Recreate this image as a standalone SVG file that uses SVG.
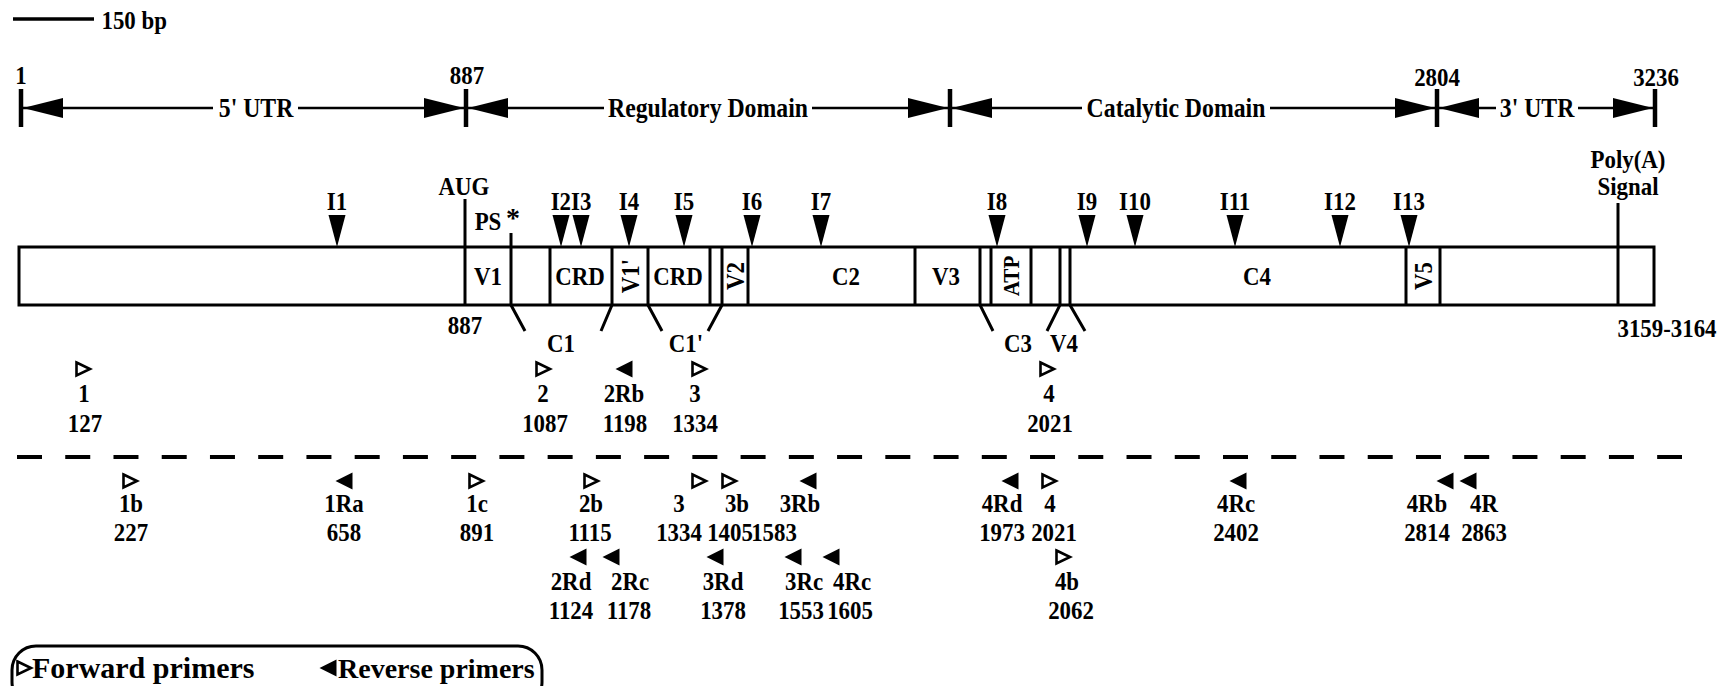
<svg xmlns="http://www.w3.org/2000/svg" width="1732" height="686" viewBox="0 0 1732 686">
<style>
text{font-family:"Liberation Serif","Times New Roman",serif;font-weight:bold;font-size:26px;fill:#000;text-anchor:middle;transform-box:fill-box;transform-origin:center;transform:scaleX(0.88)}
.st{text-anchor:start}
.ns{transform:none}
.ln{stroke:#000;stroke-width:3;fill:none}
.thin{stroke:#000;stroke-width:2.5;fill:none}
.tick{stroke:#000;stroke-width:4.5}
.big{font-size:27px}
.lg{font-size:30px}
</style>
<defs>
<path id="fwd" d="M-6.5,-6.5 L7,0 L-6.5,6.5 Z" fill="#fff" stroke="#000" stroke-width="2.6"/>
<path id="rev" d="M-8.5,0 L8.5,-8.5 L8.5,8.5 Z" fill="#000"/>
<path id="dn" d="M-8.5,0 L8.5,0 L0,32 Z" fill="#000"/>
<path id="ar" d="M-40,-10 L0,0 L-40,10 Z" fill="#000"/>
<path id="al" d="M40,-10 L0,0 L40,10 Z" fill="#000"/>
</defs>
<rect width="1732" height="686" fill="#fff"/>

<g id="scale">
<line x1="13" y1="19" x2="94" y2="19" stroke="#000" stroke-width="3.5"/>
<text class="st" x="97" y="29">150 bp</text>
</g>

<g id="dimension">
<g class="thin">
<line x1="23" y1="108" x2="213" y2="108"/>
<line x1="298" y1="108" x2="464" y2="108"/>
<line x1="468" y1="108" x2="604" y2="108"/>
<line x1="812" y1="108" x2="948" y2="108"/>
<line x1="952" y1="108" x2="1082" y2="108"/>
<line x1="1270" y1="108" x2="1435" y2="108"/>
<line x1="1439" y1="108" x2="1496" y2="108"/>
<line x1="1578" y1="108" x2="1653" y2="108"/>
</g>
<line x1="21" y1="89" x2="21" y2="127" class="tick"/>
<line x1="466" y1="89" x2="466" y2="127" class="tick"/>
<line x1="950" y1="89" x2="950" y2="127" class="tick"/>
<line x1="1437" y1="89" x2="1437" y2="127" class="tick"/>
<line x1="1655" y1="89" x2="1655" y2="127" class="tick"/>
<use href="#al" x="23" y="108"/>
<use href="#ar" x="464" y="108"/>
<use href="#al" x="468" y="108"/>
<use href="#ar" x="948" y="108"/>
<use href="#al" x="952" y="108"/>
<use href="#ar" x="1435" y="108"/>
<use href="#al" x="1439" y="108"/>
<use href="#ar" x="1653" y="108"/>
<text x="21" y="84">1</text>
<text x="467" y="84">887</text>
<text x="1437" y="86">2804</text>
<text x="1656" y="86">3236</text>
<text class="big" x="256" y="117">5' UTR</text>
<text class="big" x="708" y="117">Regulatory Domain</text>
<text class="big" x="1176" y="117">Catalytic Domain</text>
<text class="big" x="1537" y="117">3' UTR</text>
</g>

<g id="gene">
<rect x="19" y="247" width="1635" height="58" class="ln"/>
<line x1="465" y1="199" x2="465" y2="305" class="ln"/>
<polyline points="511,233 511,305 525,331" class="ln"/>
<line x1="550" y1="247" x2="550" y2="305" class="ln"/>
<polyline points="612,247 612,305 601,331" class="ln"/>
<polyline points="648,247 648,305 662,331" class="ln"/>
<line x1="710" y1="247" x2="710" y2="305" class="ln"/>
<polyline points="722,247 722,305 708,331" class="ln"/>
<line x1="748" y1="247" x2="748" y2="305" class="ln"/>
<line x1="915" y1="247" x2="915" y2="305" class="ln"/>
<polyline points="980,247 980,305 993,331" class="ln"/>
<line x1="991" y1="247" x2="991" y2="305" class="ln"/>
<line x1="1031" y1="247" x2="1031" y2="305" class="ln"/>
<polyline points="1060,247 1060,305 1047,331" class="ln"/>
<polyline points="1070,247 1070,305 1085,331" class="ln"/>
<line x1="1406" y1="247" x2="1406" y2="305" class="ln"/>
<line x1="1440" y1="247" x2="1440" y2="305" class="ln"/>
<line x1="1618" y1="203" x2="1618" y2="305" class="ln"/>
<text x="488" y="285">V1</text>
<text x="580" y="285">CRD</text>
<g transform="translate(630,276) rotate(-90)"><text y="9">V1'</text></g>
<text x="678" y="285">CRD</text>
<g transform="translate(735,276) rotate(-90)"><text y="9">V2</text></g>
<text x="846" y="285">C2</text>
<text x="946" y="285">V3</text>
<g transform="translate(1011,276) rotate(-90)"><text y="8" style="font-size:24px">ATP</text></g>
<text x="1257" y="285">C4</text>
<g transform="translate(1423,276) rotate(-90)"><text y="9">V5</text></g>
<text x="464" y="195">AUG</text>
<text x="488" y="230">PS</text>
<text class="ns" x="513" y="227" style="font-size:28px">*</text>
<text x="1628" y="168">Poly(A)</text>
<text x="1628" y="195">Signal</text>
<text x="465" y="334">887</text>
<text x="1667" y="337">3159-3164</text>
<text x="561" y="352">C1</text>
<text x="686" y="352">C1'</text>
<text x="1018" y="352">C3</text>
<text x="1064" y="352">V4</text>
</g>

<g id="introns">
<use href="#dn" x="337" y="215"/><text x="337" y="210">I1</text>
<use href="#dn" x="561" y="215"/><use href="#dn" x="581" y="215"/><text x="571" y="210">I2I3</text>
<use href="#dn" x="629" y="215"/><text x="629" y="210">I4</text>
<use href="#dn" x="684" y="215"/><text x="684" y="210">I5</text>
<use href="#dn" x="752" y="215"/><text x="752" y="210">I6</text>
<use href="#dn" x="821" y="215"/><text x="821" y="210">I7</text>
<use href="#dn" x="997" y="215"/><text x="997" y="210">I8</text>
<use href="#dn" x="1087" y="215"/><text x="1087" y="210">I9</text>
<use href="#dn" x="1135" y="215"/><text x="1135" y="210">I10</text>
<use href="#dn" x="1235" y="215"/><text x="1235" y="210">I11</text>
<use href="#dn" x="1340" y="215"/><text x="1340" y="210">I12</text>
<use href="#dn" x="1409" y="215"/><text x="1409" y="210">I13</text>
</g>

<g id="divider">
<line x1="17" y1="457" x2="1682" y2="457" stroke="#000" stroke-width="4" stroke-dasharray="25 23.24"/>
</g>

<g id="primers-upper">
<g id="p-1"><use href="#fwd" x="83" y="369"/><text x="84" y="402">1</text><text x="85" y="432">127</text></g>
<g id="p-2"><use href="#fwd" x="543" y="369"/><text x="543" y="402">2</text><text x="545" y="432">1087</text></g>
<g id="p-2Rb"><use href="#rev" x="624" y="369"/><text x="624" y="402">2Rb</text><text x="625" y="432">1198</text></g>
<g id="p-3"><use href="#fwd" x="699" y="369"/><text x="695" y="402">3</text><text x="695" y="432">1334</text></g>
<g id="p-4"><use href="#fwd" x="1047" y="369"/><text x="1049" y="402">4</text><text x="1050" y="432">2021</text></g>
</g>

<g id="primers-lower">
<g id="p-1b"><use href="#fwd" x="130" y="481"/><text x="131" y="512">1b</text><text x="131" y="541">227</text></g>
<g id="p-1Ra"><use href="#rev" x="344" y="481"/><text x="344" y="512">1Ra</text><text x="344" y="541">658</text></g>
<g id="p-1c"><use href="#fwd" x="476" y="481"/><text x="477" y="512">1c</text><text x="477" y="541">891</text></g>
<g id="p-2b"><use href="#fwd" x="591" y="481"/><text x="591" y="512">2b</text><text x="590" y="541">1115</text></g>
<g id="p-3L"><use href="#fwd" x="699" y="481"/><text x="679" y="512">3</text><text x="679" y="541">1334</text></g>
<g id="p-3b"><use href="#fwd" x="729" y="481"/><text x="737" y="512">3b</text><text x="730" y="541">1405</text></g>
<g id="p-3Rb"><use href="#rev" x="808" y="481"/><text x="800" y="512">3Rb</text><text x="774" y="541">1583</text></g>
<g id="p-4Rd"><use href="#rev" x="1010" y="481"/><text x="1002" y="512">4Rd</text><text x="1002" y="541">1973</text></g>
<g id="p-4L"><use href="#fwd" x="1049" y="481"/><text x="1050" y="512">4</text><text x="1054" y="541">2021</text></g>
<g id="p-4Rc"><use href="#rev" x="1238" y="481"/><text x="1236" y="512">4Rc</text><text x="1236" y="541">2402</text></g>
<g id="p-4Rb"><use href="#rev" x="1445" y="481"/><text x="1427" y="512">4Rb</text><text x="1427" y="541">2814</text></g>
<g id="p-4R"><use href="#rev" x="1468" y="481"/><text x="1484" y="512">4R</text><text x="1484" y="541">2863</text></g>
<g id="p-2Rd"><use href="#rev" x="578" y="557"/><text x="571" y="590">2Rd</text><text x="571" y="619">1124</text></g>
<g id="p-2Rc"><use href="#rev" x="611" y="557"/><text x="630" y="590">2Rc</text><text x="629" y="619">1178</text></g>
<g id="p-3Rd"><use href="#rev" x="715" y="557"/><text x="723" y="590">3Rd</text><text x="723" y="619">1378</text></g>
<g id="p-3Rc"><use href="#rev" x="793" y="557"/><text x="804" y="590">3Rc</text><text x="801" y="619">1553</text></g>
<g id="p-4Rc2"><use href="#rev" x="831" y="557"/><text x="852" y="590">4Rc</text><text x="850" y="619">1605</text></g>
<g id="p-4b"><use href="#fwd" x="1063" y="557"/><text x="1067" y="590">4b</text><text x="1071" y="619">2062</text></g>
</g>

<g id="legend">
<rect x="12" y="646" width="530" height="60" rx="24" class="ln"/>
<use href="#fwd" x="24" y="668"/>
<text class="st ns lg" x="32" y="678">Forward primers</text>
<use href="#rev" x="328" y="668"/>
<text class="st ns lg" x="338" y="678" style="font-size:28px">Reverse primers</text>
</g>
</svg>
